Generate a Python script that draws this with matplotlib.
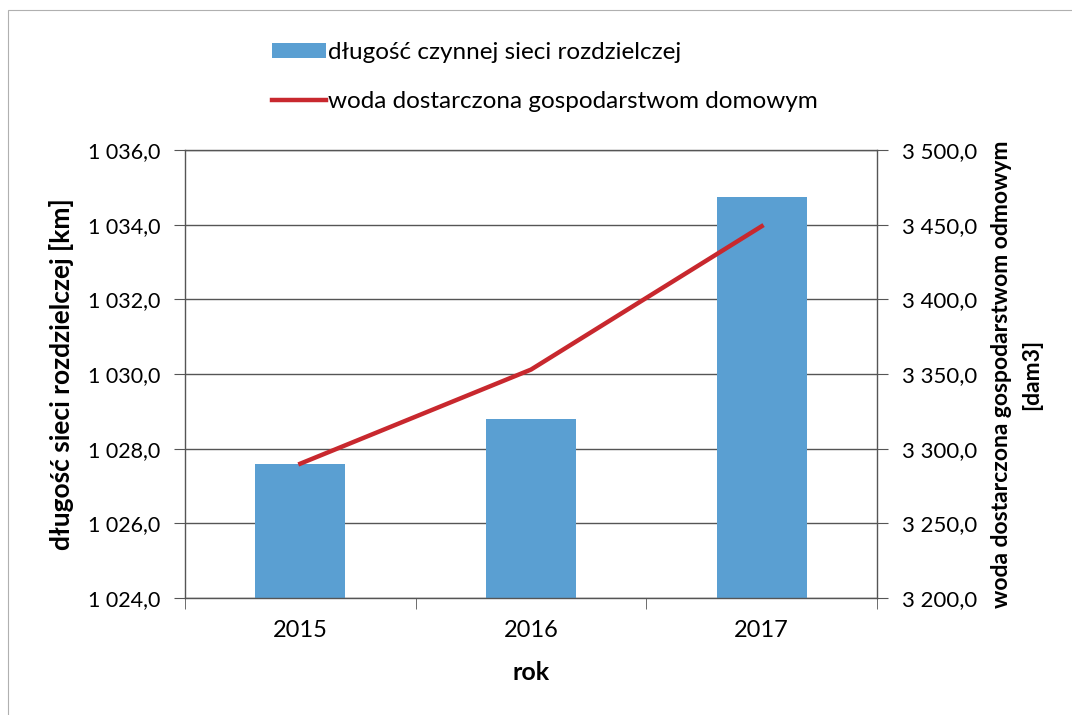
import numpy as np
import matplotlib
matplotlib.use("Agg")
import matplotlib.pyplot as plt
from matplotlib.patches import Rectangle

plt.rcParams['font.family'] = ['Lato', 'DejaVu Sans']

lata = ['2015', '2016', '2017']
dlugosc_sieci = [1027.6, 1028.8, 1034.75]
woda_gosp = [3290.0, 3353.0, 3449.0]

lewe_ticki = [1024, 1026, 1028, 1030, 1032, 1034, 1036]
lewe_etykiety = ['1 024,0', '1 026,0', '1 028,0', '1 030,0', '1 032,0', '1 034,0', '1 036,0']
prawe_ticki = [3200, 3250, 3300, 3350, 3400, 3450, 3500]
prawe_etykiety = ['3 200,0', '3 250,0', '3 300,0', '3 350,0', '3 400,0', '3 450,0', '3 500,0']

kolor_slupka = '#5a9fd2'
kolor_linii = '#c8282e'
kolor_siatki = '#555555'

fig = plt.figure(figsize=(10.72, 7.15), dpi=100)
fig.patches.append(Rectangle((8 / 1072, -0.1), 1.2, 1 - 10 / 715 + 0.1, transform=fig.transFigure,
                             fill=False, edgecolor='#b0b0b0', linewidth=0.8))

ax = fig.add_axes([0.1726, 0.1636, 0.6455, 0.6265])
x = np.arange(len(lata))
slupki = ax.bar(x, [v - 1024 for v in dlugosc_sieci], bottom=1024, width=0.39,
                color=kolor_slupka, zorder=2, label='długość czynnej sieci rozdzielczej')
ax.set_xlim(-0.5, 2.5)
ax.set_ylim(1024, 1036)
ax.set_yticks(lewe_ticki)
ax.set_yticklabels(lewe_etykiety)
ax.yaxis.grid(True, color=kolor_siatki, linewidth=1.0, zorder=1)
ax.set_axisbelow(True)
ax.set_xticks(x)
ax.set_xticklabels(lata)
ax.set_xticks([-0.5, 0.5, 1.5, 2.5], minor=True)
ax.tick_params(axis='x', which='major', length=0, pad=16, labelsize=17)
ax.tick_params(axis='x', which='minor', length=8, color=kolor_siatki)
ax.tick_params(axis='y', length=8, color=kolor_siatki, labelsize=15.5, pad=10)
for s in ax.spines.values():
    s.set_color(kolor_siatki)
    s.set_linewidth(1.0)
ax.set_xlabel('rok', fontsize=18, fontweight='bold', labelpad=14)
ax.set_ylabel('długość sieci rozdzielczej [km]', fontsize=19, fontweight='bold', labelpad=10)

ax2 = ax.twinx()
linia, = ax2.plot(x, woda_gosp, color=kolor_linii, linewidth=3.2, zorder=3,
                  label='woda dostarczona gospodarstwom domowym')
ax2.set_ylim(3200, 3500)
ax2.set_yticks(prawe_ticki)
ax2.set_yticklabels(prawe_etykiety)
ax2.tick_params(axis='y', length=8, color=kolor_siatki, labelsize=16, pad=10)
for s in ax2.spines.values():
    s.set_visible(False)
ax2.set_ylabel('woda dostarczona gospodarstwom odmowym\n[dam3]', fontsize=16.5,
               fontweight='bold', labelpad=10, linespacing=1.5)

fig.legend(handles=[slupki, linia], loc='upper left', bbox_to_anchor=(0.245, 0.955),
           frameon=False, fontsize=17.5, handlelength=2.2, handleheight=0.6,
           handletextpad=0.1, labelspacing=1.15, borderaxespad=0)

fig.savefig('out.png', dpi=100)
